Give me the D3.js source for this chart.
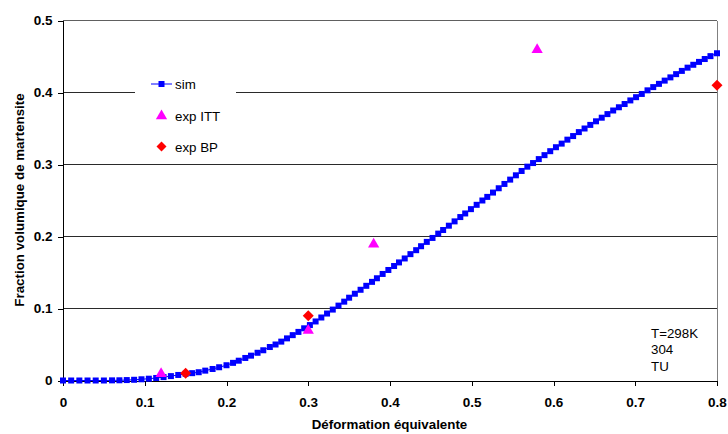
<!DOCTYPE html>
<html><head><meta charset="utf-8">
<script src="https://cdn.jsdelivr.net/npm/d3@7"></script>
<style>
html,body{margin:0;padding:0;background:#fff;}
svg{display:block;font-family:"Liberation Sans",Arial,sans-serif;}
</style></head>
<body>
<svg id="chart" width="728" height="434"></svg>
<script>
// ---- data ----
const simX = [0,0.01,0.02,0.03,0.04,0.05,0.06,0.069,0.078,0.087,0.096,0.105,0.114,0.123,0.132,0.141,0.15,0.158,0.166,0.174,0.183,0.191,0.2,0.208,
0.215,0.223,0.230,0.238,0.245,0.253,0.260,0.267,0.274,0.281,0.288,0.295,0.302,0.309,0.316,0.323,0.33,0.337,0.344,0.35,0.357,0.364,0.371,0.378,0.384,0.391,0.398,0.405,0.411,0.418,0.425,0.432,0.438,0.445,0.452,0.459,0.465,0.472,0.479,0.486,0.492,0.499,0.506,0.513,0.519,0.526,0.533,0.54,0.547,0.554,0.561,0.568,0.575,0.582,0.589,0.596,0.603,0.61,0.617,0.624,0.631,0.638,0.645,0.652,0.659,0.666,0.673,0.68,0.687,0.694,0.701,0.708,0.715,0.722,0.729,0.736,0.743,0.75,0.757,0.764,0.771,0.778,0.785,0.792,0.8];
const simY = [0,0,0,0,0,0,0.0002,0.0003,0.0006,0.001,0.0017,0.0025,0.0035,0.0047,0.0061,0.0077,0.0093,0.0102,0.0115,0.0137,0.016,0.0184,0.0212,0.0245,
0.0275,0.0313,0.0345,0.0385,0.042,0.0465,0.050,0.054,0.0585,0.063,0.0675,0.0725,0.077,0.082,0.0875,0.093,0.0985,0.104,0.1095,0.115,0.1205,0.126,0.1315,0.137,0.142,0.148,0.1535,0.159,0.164,0.1695,0.1755,0.181,0.1865,0.1925,0.198,0.204,0.209,0.215,0.221,0.227,0.232,0.238,0.244,0.25,0.255,0.261,0.267,0.273,0.279,0.285,0.291,0.297,0.302,0.3075,0.313,0.3185,0.324,0.329,0.3345,0.3395,0.345,0.35,0.355,0.36,0.365,0.37,0.375,0.3795,0.384,0.389,0.3935,0.398,0.403,0.4075,0.412,0.4165,0.421,0.4255,0.43,0.4345,0.4385,0.4425,0.4465,0.4505,0.4545];
const ittX = [0.12, 0.30, 0.38, 0.58];
const ittY = [0.01, 0.07, 0.19, 0.46];
const bpX = [0.15, 0.30, 0.80];
const bpY = [0.01, 0.09, 0.41];
const xTicks = [0,0.1,0.2,0.3,0.4,0.5,0.6,0.7,0.8];
const yTicks = [0,0.1,0.2,0.3,0.4,0.5];
const legendNames = ["sim","exp ITT","exp BP"];
const noteLines = ["T=298K","304","TU"];
const xTitle = "Déformation équivalente";
const yTitle = "Fraction volumique de martensite";

// ---- chart ----
const svg = d3.select("#chart");
const x = d3.scaleLinear().domain([0,0.8]).range([63,717]);
const y = d3.scaleLinear().domain([0,0.5]).range([380.5,20.5]);
const fmt = d => d===0 ? "0" : d3.format(".1f")(d);

// gridlines
svg.append("g").selectAll("line").data(yTicks.filter(d=>d>0 && d<0.5)).join("line")
  .attr("x1",x(0)).attr("x2",x(0.8)).attr("y1",d=>y(d)).attr("y2",d=>y(d))
  .attr("stroke","#2a2a2a").attr("stroke-width",1).attr("shape-rendering","crispEdges");
// plot border (top, right)
svg.append("line").attr("x1",x(0.8)+0.5).attr("x2",x(0.8)+0.5).attr("y1",y(0.5)).attr("y2",y(0))
  .attr("stroke","#808080").attr("shape-rendering","crispEdges");
svg.append("line").attr("x1",x(0)).attr("x2",x(0.8)).attr("y1",y(0.5)).attr("y2",y(0.5))
  .attr("stroke","#606060").attr("shape-rendering","crispEdges");

// axes
const xAxis = d3.axisBottom(x).tickValues(xTicks).tickFormat(fmt).tickSizeInner(5).tickSizeOuter(0).tickPadding(12);
const yAxis = d3.axisLeft(y).tickValues(yTicks).tickFormat(fmt).tickSizeInner(5).tickSizeOuter(0).tickPadding(5);
const gx = svg.append("g").attr("transform",`translate(0,${y(0)})`).call(xAxis);
const gy = svg.append("g").attr("transform",`translate(${x(0)-0.5},0)`).call(yAxis);
[gx,gy].forEach(g=>{
  g.selectAll("path,line").attr("stroke","#000").attr("shape-rendering","crispEdges");
  g.selectAll("text").attr("fill","#000").attr("font-size","13.5px").attr("font-weight","bold")
   .attr("font-family","'Liberation Sans',Arial,sans-serif");
});

// titles
svg.append("text").attr("x",389.5).attr("y",429).attr("text-anchor","middle")
  .attr("font-size","13.33px").attr("font-weight","bold").text(xTitle);
svg.append("text").attr("transform","translate(24,200) rotate(-90)").attr("text-anchor","middle")
  .attr("font-size","13.33px").attr("font-weight","bold").text(yTitle);

// sim line + markers
const simData = simX.map((v,i)=>[v,simY[i]]);
svg.append("path").datum(simData).attr("fill","none").attr("stroke","#0000ff").attr("stroke-width",1)
  .attr("d",d3.line().x(d=>x(d[0])).y(d=>y(d[1])));
svg.append("g").selectAll("rect").data(simData).join("rect")
  .attr("x",d=>x(d[0])-3).attr("y",d=>y(d[1])-3).attr("width",6).attr("height",6)
  .attr("fill","#0000ff");

const tri = d3.symbol().type(d3.symbolTriangle).size(55);
const dia = (cx,cy,r)=>`M${cx},${cy-r}L${cx+r},${cy}L${cx},${cy+r}L${cx-r},${cy}Z`;
svg.append("g").selectAll("path").data(ittX.map((v,i)=>[v,ittY[i]])).join("path")
  .attr("d",tri).attr("transform",d=>`translate(${x(d[0])},${y(d[1])+0.5})`).attr("fill","#ff00ff");
svg.append("g").selectAll("path").data(bpX.map((v,i)=>[v,bpY[i]])).join("path")
  .attr("d",d=>dia(x(d[0]),y(d[1]),5.5)).attr("fill","#ff0000");

// legend
const lg = svg.append("g");
lg.append("rect").attr("x",135).attr("y",68).attr("width",101).attr("height",90).attr("fill","#fff");
const ly = [84, 115.5, 146.5];
lg.append("line").attr("x1",151).attr("x2",172).attr("y1",ly[0]).attr("y2",ly[0]).attr("stroke","#0000ff");
lg.append("rect").attr("x",161.5-3).attr("y",ly[0]-3).attr("width",6).attr("height",6).attr("fill","#0000ff");
lg.append("path").attr("d",tri).attr("transform",`translate(161.5,${ly[1]+0.5})`).attr("fill","#ff00ff");
lg.append("path").attr("d",dia(161.5,ly[2],5)).attr("fill","#ff0000");
lg.selectAll("text.lt").data(legendNames).join("text").attr("class","lt")
  .attr("x",175).attr("y",(d,i)=>ly[i]+5).attr("font-size","13.33px").attr("fill","#000").text(d=>d);

// note
svg.append("g").selectAll("text").data(noteLines).join("text")
  .attr("x",651).attr("y",(d,i)=>337.5+i*16.8).attr("font-size","13.33px").attr("fill","#000").text(d=>d);
</script>
</body></html>
